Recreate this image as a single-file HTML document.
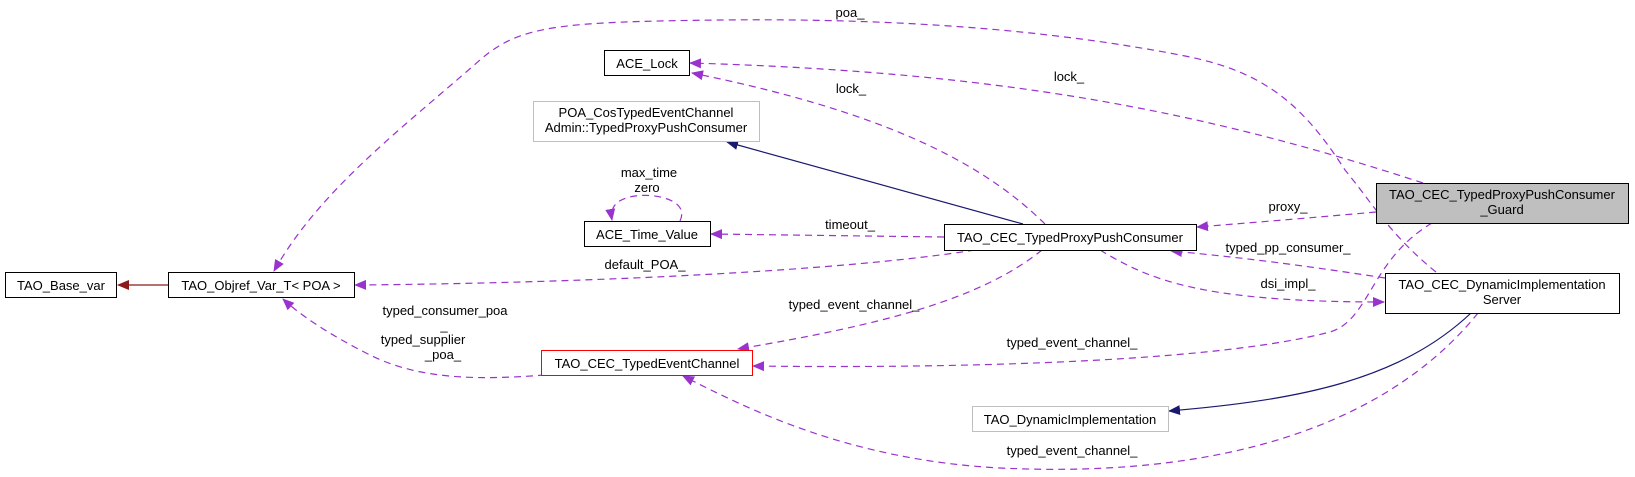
<!DOCTYPE html>
<html><head><meta charset="utf-8"><style>
html,body{margin:0;padding:0;background:#fff;}
svg{display:block;}
text{font-family:"Liberation Sans",sans-serif;font-size:13px;fill:#000;}
</style></head><body>
<svg width="1635" height="477" viewBox="0 0 1635 477" xmlns="http://www.w3.org/2000/svg">
<defs>
<marker id="mp" markerWidth="12" markerHeight="10" refX="11" refY="5" orient="auto" markerUnits="userSpaceOnUse"><path d="M0,0 L12,5 L0,10 z" fill="#9a32cd"/></marker>
<marker id="mb" markerWidth="12" markerHeight="10" refX="11" refY="5" orient="auto" markerUnits="userSpaceOnUse"><path d="M0,0 L12,5 L0,10 z" fill="#191970"/></marker>
<marker id="mr" markerWidth="12" markerHeight="10" refX="11" refY="5" orient="auto" markerUnits="userSpaceOnUse"><path d="M0,0 L12,5 L0,10 z" fill="#8b1a1a"/></marker>
</defs>
<g fill="none" stroke-width="1.2">
<path d="M168,285 L118,285" stroke="#8b1a1a" marker-end="url(#mr)"/>
<g stroke="#9a32cd" stroke-dasharray="7,5" marker-end="url(#mp)">
<path d="M1436,272 C1390,235 1370,200 1345,170 C1300,100 1260,70 1180,55 C1050,30 900,18 720,20 C560,22 520,25 480,60 C400,130 320,190 274,271"/>
<path d="M1423,183 C1200,110 1000,72 690,63"/>
<path d="M1045,224 C990,170 900,115 692,73"/>
<path d="M944,237 L711,234"/>
<path d="M680,221 C690,200 655,193 635,196 C615,199 610,208 612,220"/>
<path d="M975,250 C850,270 600,283 355,285"/>
<path d="M1042,250 C980,300 880,325 738,349"/>
<path d="M1432,223 C1370,260 1370,320 1330,332 C1200,366 900,368 753,366"/>
<path d="M1385,278 C1320,268 1250,258 1171,251"/>
<path d="M1100,250 C1150,280 1200,302 1384,302"/>
<path d="M1376,212 C1320,217 1260,222 1197,227"/>
<path d="M1478,313 C1400,410 1250,480 1000,468 C850,460 750,410 683,376"/>
<path d="M545,375 C480,380 420,380 370,355 C330,335 300,315 283,299"/>
</g>
<path d="M1023,224 L727,142" stroke="#191970" marker-end="url(#mb)"/>
<path d="M1471,313 C1400,380 1300,400 1169,411" stroke="#191970" marker-end="url(#mb)"/>
</g>
<g stroke-width="1">
<rect x="5.5" y="272.5" width="111" height="25" fill="#fff" stroke="#000"/>
<rect x="168.5" y="272.5" width="186" height="25" fill="#fff" stroke="#000"/>
<rect x="604.5" y="50.5" width="85" height="25" fill="#fff" stroke="#000"/>
<rect x="533.5" y="101.5" width="226" height="40" fill="#fff" stroke="#bfbfbf"/>
<rect x="584.5" y="221.5" width="126" height="25" fill="#fff" stroke="#000"/>
<rect x="541.5" y="350.5" width="211" height="25" fill="#fff" stroke="#ff0000"/>
<rect x="944.5" y="224.5" width="252" height="26" fill="#fff" stroke="#000"/>
<rect x="1376.5" y="183.5" width="252" height="40" fill="#bfbfbf" stroke="#000"/>
<rect x="1385.5" y="273.5" width="234" height="40" fill="#fff" stroke="#000"/>
<rect x="972.5" y="406.5" width="196" height="25" fill="#fff" stroke="#bfbfbf"/>
</g>
<g text-anchor="middle">
<text x="61" y="290">TAO_Base_var</text>
<text x="261" y="290">TAO_Objref_Var_T&lt; POA &gt;</text>
<text x="647" y="68">ACE_Lock</text>
<text x="646" y="117">POA_CosTypedEventChannel</text>
<text x="646" y="132">Admin::TypedProxyPushConsumer</text>
<text x="647" y="239">ACE_Time_Value</text>
<text x="647" y="368">TAO_CEC_TypedEventChannel</text>
<text x="1070" y="242">TAO_CEC_TypedProxyPushConsumer</text>
<text x="1502" y="199">TAO_CEC_TypedProxyPushConsumer</text>
<text x="1502" y="214">_Guard</text>
<text x="1502" y="289">TAO_CEC_DynamicImplementation</text>
<text x="1502" y="304">Server</text>
<text x="1070" y="424">TAO_DynamicImplementation</text>
<text x="850" y="17">poa_</text>
<text x="1069" y="81">lock_</text>
<text x="851" y="93">lock_</text>
<text x="649" y="177">max_time</text>
<text x="647" y="192">zero</text>
<text x="850" y="229">timeout_</text>
<text x="645" y="269">default_POA_</text>
<text x="854" y="309">typed_event_channel_</text>
<text x="1288" y="211">proxy_</text>
<text x="1288" y="252">typed_pp_consumer_</text>
<text x="1288" y="288">dsi_impl_</text>
<text x="1072" y="347">typed_event_channel_</text>
<text x="1072" y="455">typed_event_channel_</text>
<text x="445" y="315">typed_consumer_poa</text>
<text x="444" y="330">_</text>
<text x="423" y="344">typed_supplier</text>
<text x="443" y="359">_poa_</text>
</g>
</svg>
</body></html>
